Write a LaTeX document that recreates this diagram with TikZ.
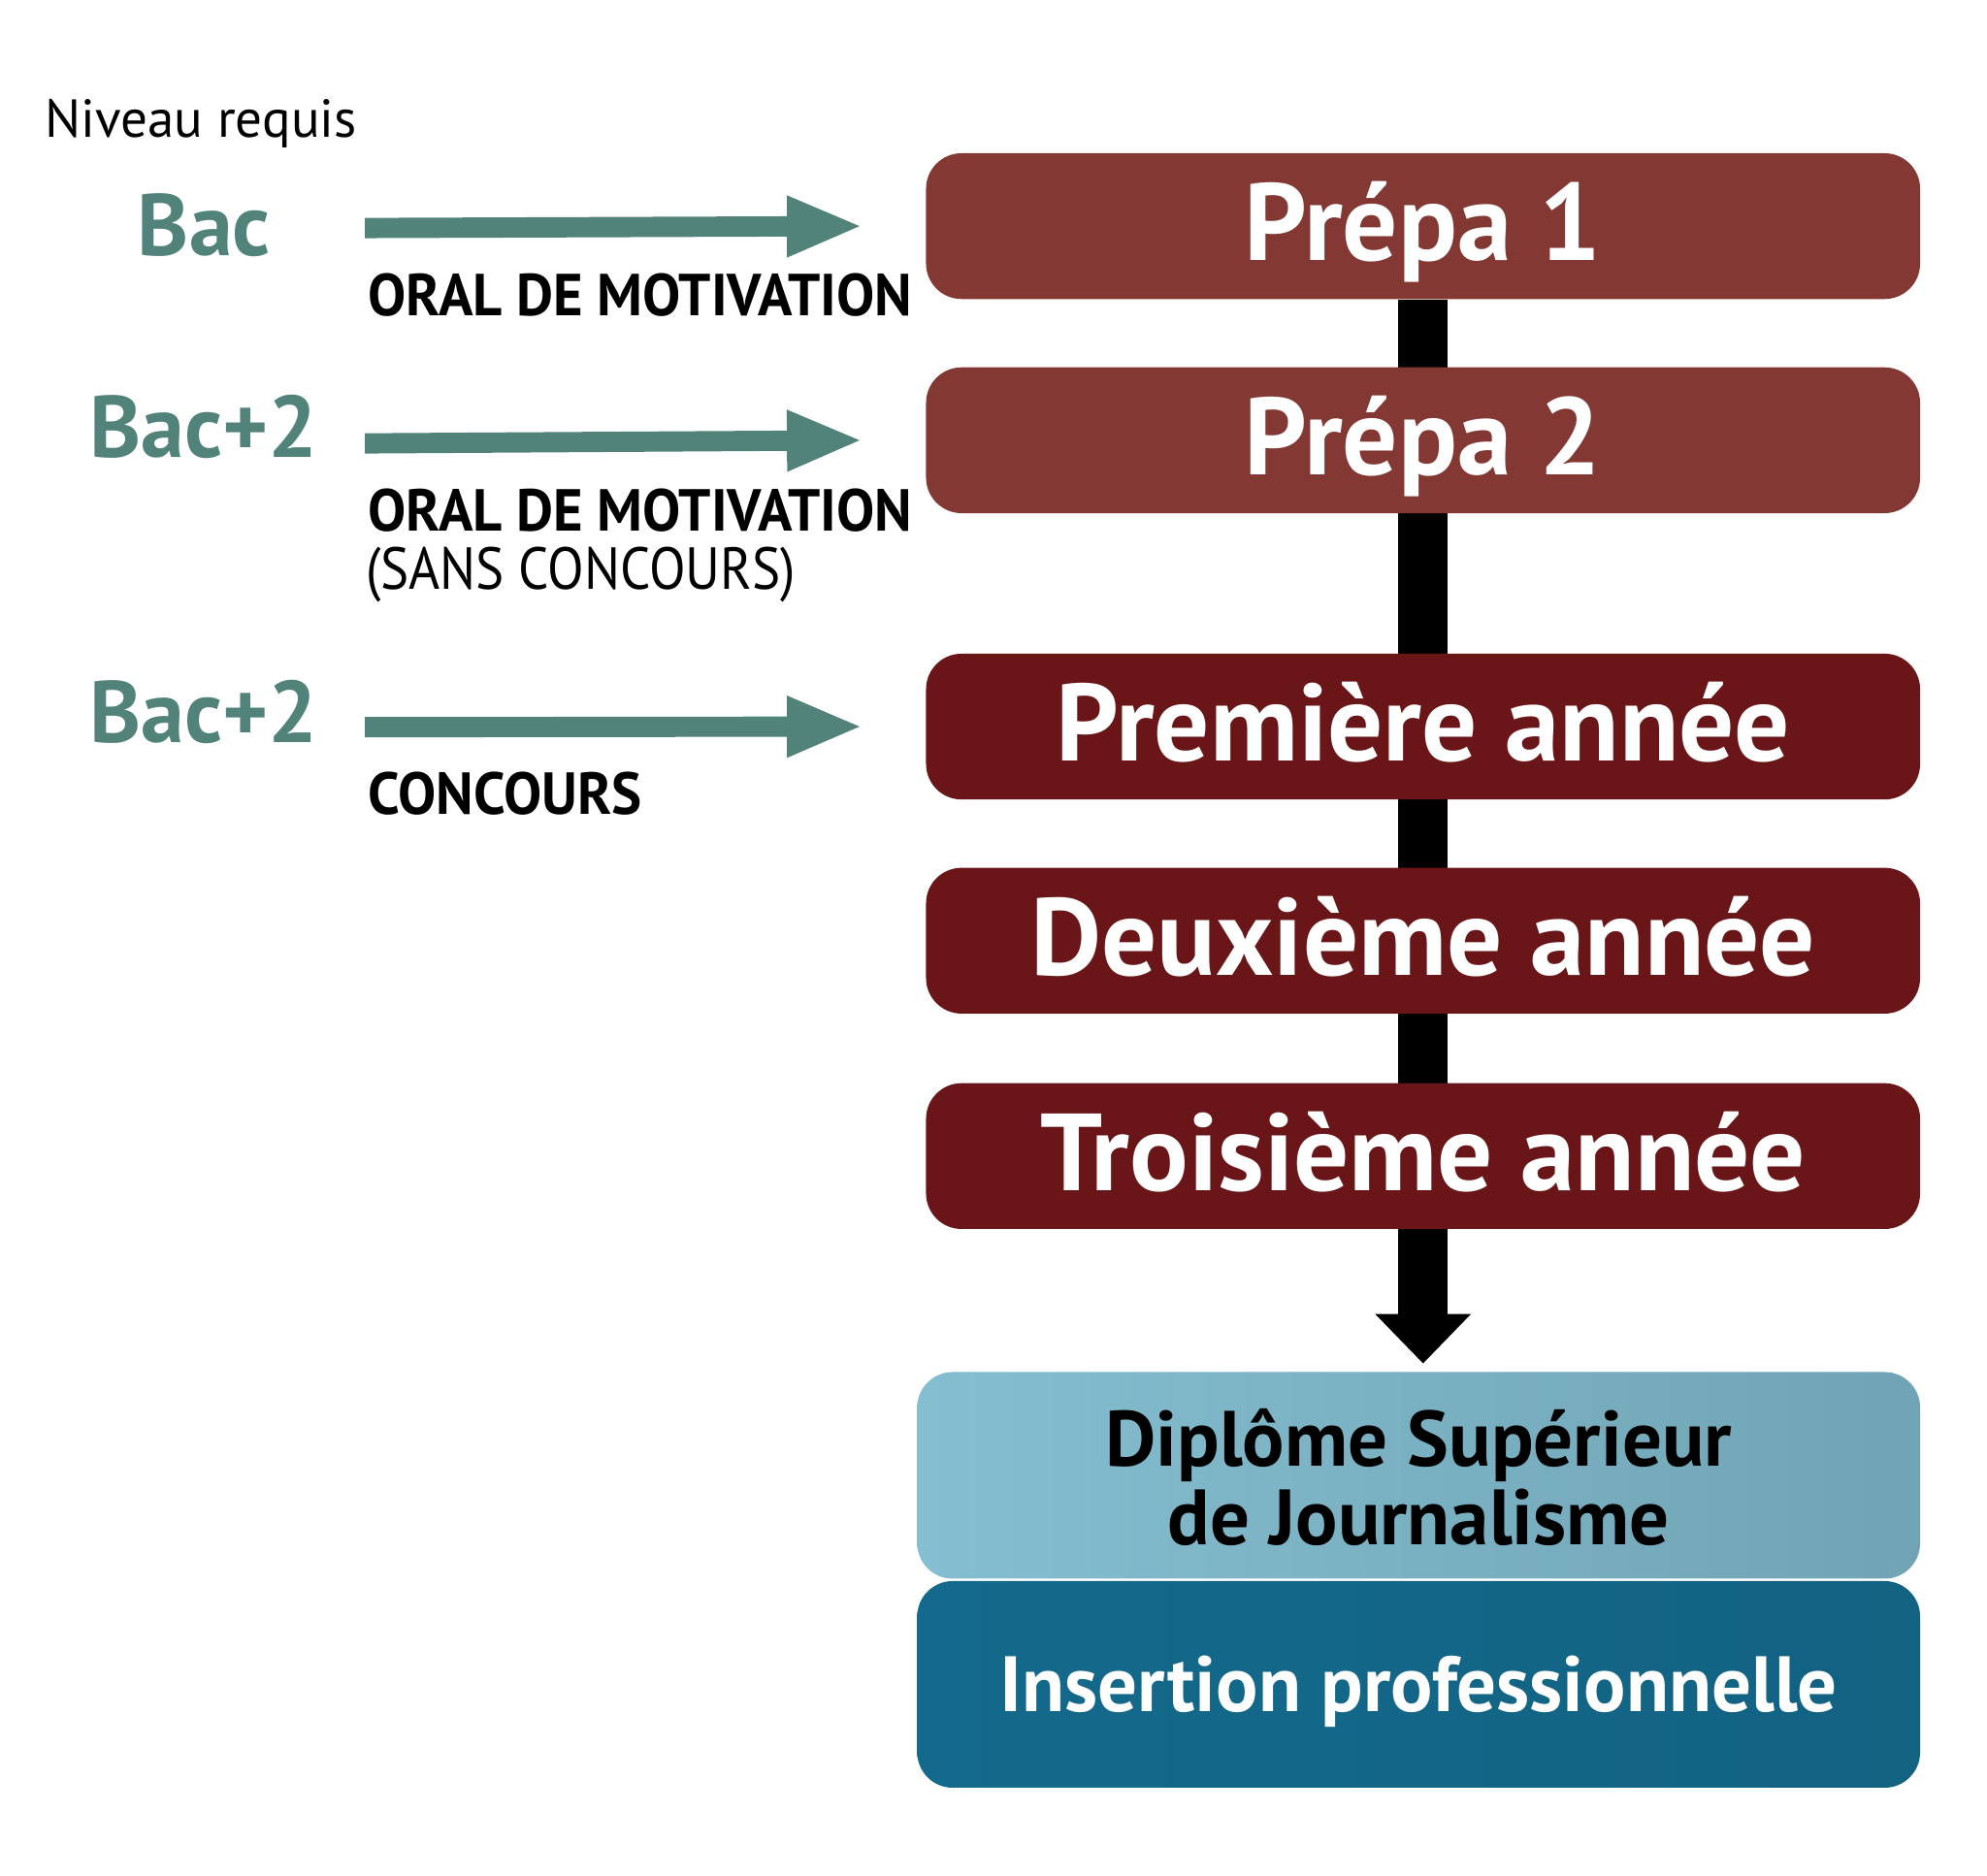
\documentclass[tikz,border=0pt]{standalone}
\usepackage{fontspec}
\setmainfont{PT Sans}
\newfontfamily\etroite[FakeStretch=0.96]{PT Sans}
\newfontfamily\tresetroite[FakeStretch=0.9]{PT Sans}
\usetikzlibrary{arrows.meta,backgrounds}
\definecolor{prepacol}{RGB}{132,56,52}
\definecolor{anneecol}{RGB}{106,22,25}
\definecolor{bacgreen}{RGB}{81,131,122}
\definecolor{dsjlight}{RGB}{132,190,208}
\definecolor{dsjgrey}{RGB}{112,164,180}
\definecolor{insblue}{RGB}{20,106,140}
\definecolor{insdark}{RGB}{18,98,130}
\tikzset{
  year/.style={rectangle, rounded corners=0.28cm, minimum width=7.84cm, minimum height=1.15cm,
    text=white, inner sep=0pt, font=\bfseries\fontsize{24.6}{27}\selectfont,
    text height=15.5pt, text depth=0pt},
  niveau/.style={anchor=base, text=bacgreen, font=\bfseries\fontsize{19.6}{23}\selectfont},
  modalite/.style={anchor=base west, inner sep=0pt, font=\etroite\bfseries\fontsize{13.3}{16}\selectfont},
  entree/.style={line width=0.16cm, draw=bacgreen, -{Triangle[length=0.6cm,width=0.44cm]}},
}
\begin{document}
\begin{tikzpicture}[x=0.01cm,y=-0.01cm]
\useasboundingbox (0,0) rectangle (1568,1480.7);
% formation
\node[year, fill=prepacol] (prepa1) at (1123,178.5) {Prépa 1};
\node[year, fill=prepacol] (prepa2) at (1123,347.5) {Prépa 2};
\node[year, fill=anneecol] (annee1) at (1123,573.5) {Première année};
\node[year, fill=anneecol] (annee2) at (1123,742.5) {Deuxième année};
\node[year, fill=anneecol] (annee3) at (1123,912.5) {Troisième année};
\node[year, left color=dsjlight, right color=dsjgrey, text=black, minimum width=7.91cm, minimum height=1.63cm,
  align=center, font=\bfseries\fontsize{17.6}{17.5}\selectfont, text height=31pt] (dsj) at (1119.5,1164.5)
  {Diplôme Supérieur\\de Journalisme};
\node[year, left color=insblue, right color=insdark, minimum width=7.91cm, minimum height=1.63cm,
  font=\bfseries\fontsize{17.6}{20}\selectfont, text height=12.3pt] (insertion) at (1119.5,1329.5)
  {Insertion professionnelle};
\begin{scope}[on background layer]
\draw[line width=0.39cm, shorten >=0.06cm, -{Triangle[length=0.39cm,width=0.73cm]}]
  (prepa1.south) -- (prepa1.south |- dsj.north);
\end{scope}
% niveau requis
\node[anchor=base west, inner sep=0pt, font=\fontsize{12}{14}\selectfont] (titre) at (35,108) {Niveau requis};
\node[niveau] (bac) at (161,202) {Bac};
\node[niveau] (bac2) at (161,361) {Bac+2};
\node[niveau] (bac2c) at (161,586) {Bac+2};
\coordinate (e1) at (288,180);
\coordinate (e2) at (288,350);
\coordinate (e3) at (288,574);
\draw[entree] (e1) -- ([xshift=-0.49cm]prepa1.west);
\draw[entree] (e2) -- ([xshift=-0.49cm]prepa2.west);
\draw[entree] (e3) -- ([xshift=-0.49cm]annee1.west);
\node[modalite] (oral1) at (290,249) {ORAL DE MOTIVATION};
\node[modalite] (oral2) at (290,419) {ORAL DE MOTIVATION};
\node[modalite, font=\tresetroite\fontsize{13.3}{16}\selectfont] (sans) at (288,465) {(SANS CONCOURS)};
\node[modalite] (concours) at (290,643) {CONCOURS};
\end{tikzpicture}
\end{document}
